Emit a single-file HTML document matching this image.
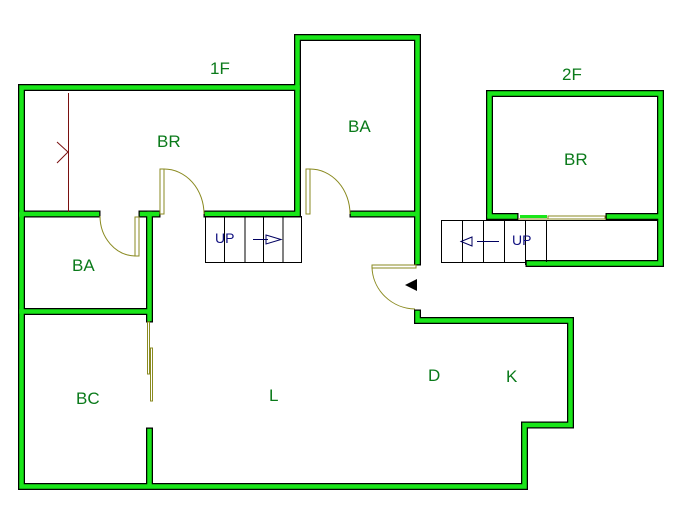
<!DOCTYPE html>
<html><head><style>html,body{margin:0;padding:0;background:#fff}svg{display:block}
text{font-family:"Liberation Sans",sans-serif;fill:#0a7a1a;font-size:17px}</style></head>
<body>
<svg width="690" height="513" viewBox="0 0 690 513">
<g fill="none" stroke-linecap="square" stroke-linejoin="miter">
<g stroke="#000" stroke-width="7">
<polyline points="21.5,215 21.5,87.5 297.5,87.5 297.5,37.5 417.5,37.5 417.5,262"/>
<polyline points="21.5,215 21.5,486.5 524.5,486.5 524.5,425 570.5,425 570.5,320.5 417.5,320.5 417.5,313"/>
<polyline points="21.5,214 97,214"/><polyline points="142,214 157,214"/>
<polyline points="207,214 297,214"/><polyline points="297.5,87.5 297.5,214"/>
<polyline points="353,214 417,214"/>
<polyline points="149.5,214 149.5,319"/><polyline points="149.5,431 149.5,486"/>
<polyline points="21.5,311.5 149,311.5"/>
<polyline points="489.5,215 489.5,93.5 660.5,93.5 660.5,263.5 529,263.5"/>
<polyline points="489.5,216.5 515,216.5"/><polyline points="609,216.5 660,216.5"/>
</g>
<g stroke="#19e619" stroke-width="4.5">
<polyline points="21.5,215 21.5,87.5 297.5,87.5 297.5,37.5 417.5,37.5 417.5,262"/>
<polyline points="21.5,215 21.5,486.5 524.5,486.5 524.5,425 570.5,425 570.5,320.5 417.5,320.5 417.5,313"/>
<polyline points="21.5,214 97,214"/><polyline points="142,214 157,214"/>
<polyline points="207,214 297,214"/><polyline points="297.5,87.5 297.5,214"/>
<polyline points="353,214 417,214"/>
<polyline points="149.5,214 149.5,319"/><polyline points="149.5,431 149.5,486"/>
<polyline points="21.5,311.5 149,311.5"/>
<polyline points="489.5,215 489.5,93.5 660.5,93.5 660.5,263.5 529,263.5"/>
<polyline points="489.5,216.5 515,216.5"/><polyline points="609,216.5 660,216.5"/>
</g>
</g>
<g fill="none" stroke="#8a8a20" stroke-width="1">
<rect x="160" y="169" width="4" height="45"/><path d="M164,169 A40,45 0 0 1 204,214"/>
<rect x="306" y="169" width="4" height="45"/><path d="M310,169 A40,45 0 0 1 350,214"/>
<rect x="135" y="217" width="4" height="39"/><path d="M100,216 A36,40 0 0 0 135,256"/>
<rect x="372" y="265" width="44" height="3"/><path d="M372,267 A44,43 0 0 0 415,309"/>
<rect x="147.5" y="322" width="2" height="52"/><rect x="150.5" y="348" width="2" height="53"/>
<rect x="548" y="216" width="57" height="3"/>
<line x1="518" y1="219" x2="606" y2="219"/>
</g>
<line x1="520" y1="216.5" x2="547" y2="216.5" stroke="#19e619" stroke-width="3"/>
<g stroke="#7a1010" stroke-width="1" fill="none">
<line x1="68.5" y1="93" x2="68.5" y2="212"/><polyline points="57,142 68,152 57,163"/>
</g>
<polygon points="405,285 417,279 417,291" fill="#000"/>
<g stroke="#000" stroke-width="1" fill="none">
<rect x="205.5" y="216.5" width="96" height="46"/>
<line x1="224.5" y1="216" x2="224.5" y2="262"/><line x1="245" y1="216" x2="245" y2="262"/>
<line x1="263.5" y1="216" x2="263.5" y2="262"/><line x1="283" y1="216" x2="283" y2="262"/>
<polyline points="658,220.5 441.5,220.5 441.5,262.5 526,262.5"/>
<line x1="462.5" y1="220" x2="462.5" y2="262"/><line x1="483.5" y1="220" x2="483.5" y2="262"/>
<line x1="504.5" y1="220" x2="504.5" y2="262"/><line x1="525.5" y1="220" x2="525.5" y2="265"/>
<line x1="546.5" y1="220" x2="546.5" y2="262"/>
</g>
<g stroke="#000060" stroke-width="1" fill="none">
<line x1="253" y1="239.5" x2="268" y2="239.5"/><polygon points="266,235 281,239.5 266,244"/>
<line x1="499" y1="241.5" x2="477" y2="241.5"/><polygon points="472,237 461,241.5 472,246"/>
</g>
<text x="215" y="243" style="fill:#101080;font-size:14px">UP</text>
<text x="512" y="245" style="fill:#101080;font-size:14px">UP</text>
<text x="210" y="74">1F</text><text x="562" y="80">2F</text>
<text x="157" y="147">BR</text><text x="348" y="132">BA</text>
<text x="72" y="271">BA</text><text x="564" y="165">BR</text>
<text x="76" y="404">BC</text><text x="269" y="401">L</text>
<text x="428" y="381">D</text><text x="506" y="382">K</text>
</svg>
</body></html>
